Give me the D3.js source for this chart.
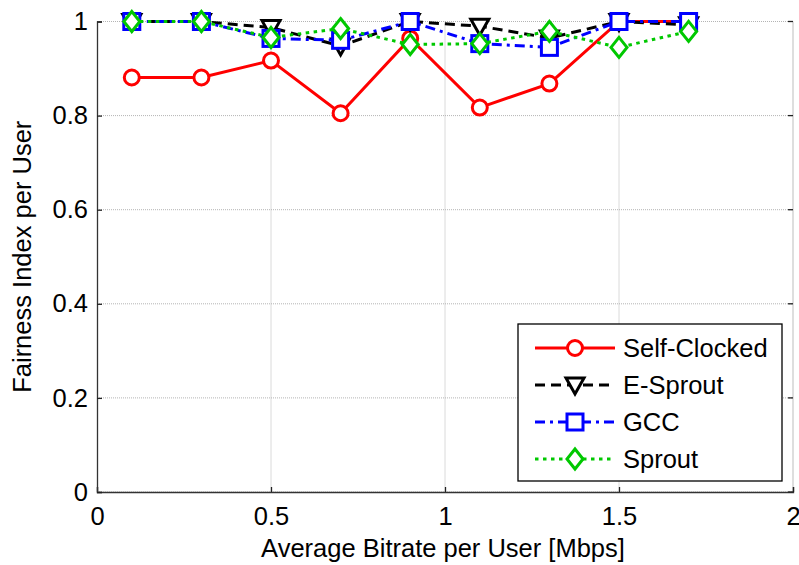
<!DOCTYPE html>
<html>
<head>
<meta charset="utf-8">
<script src="https://cdn.jsdelivr.net/npm/d3@7/dist/d3.min.js"></script>
<style>
  html, body { margin: 0; padding: 0; background: #fff; }
  svg { display: block; font-family: Arial, "Liberation Sans", sans-serif; }
</style>
</head>
<body>
<svg id="chart" width="799" height="565"></svg>
<script>
// Average bitrate per user (Mbps)
const bitrates = [0.1, 0.3, 0.5, 0.7, 0.9, 1.1, 1.3, 1.5, 1.7];

// Fairness index per user for each congestion-control scheme
const selfClocked = [0.881, 0.881, 0.917, 0.805, 0.964, 0.817, 0.868, 1.0, 1.0];
const eSprout     = [1.0, 1.0, 0.987, 0.948, 1.0, 0.99, 0.965, 1.0, 0.993];
const gcc         = [1.0, 1.0, 0.964, 0.96, 1.0, 0.953, 0.945, 1.0, 1.0];
const sprout      = [1.0, 1.0, 0.966, 0.985, 0.951, 0.953, 0.979, 0.945, 0.979];

const seriesNames = ["Self-Clocked", "E-Sprout", "GCC", "Sprout"];

const xTicks = [0, 0.5, 1, 1.5, 2];
const yTicks = [0, 0.2, 0.4, 0.6, 0.8, 1];

const styles = {
  "Self-Clocked": { color: "#ff0000", dash: null,        marker: "circle"   },
  "E-Sprout":     { color: "#000000", dash: "10,6",      marker: "triangle" },
  "GCC":          { color: "#0000ff", dash: "10,5,3,5",  marker: "square"   },
  "Sprout":       { color: "#00c800", dash: "3.5,4.5",   marker: "diamond"  }
};

const series = [
  { name: seriesNames[0], values: selfClocked },
  { name: seriesNames[1], values: eSprout },
  { name: seriesNames[2], values: gcc },
  { name: seriesNames[3], values: sprout }
];

const FONT = "25.5px";
const svg = d3.select("#chart");
const plotLeft = 97, plotRight = 793, plotTop = 21.5, plotBottom = 492;

const x = d3.scaleLinear().domain([0, 2]).range([plotLeft, plotRight]);
const y = d3.scaleLinear().domain([0, 1]).range([plotBottom, plotTop]);

// grid
const grid = svg.append("g");
grid.selectAll(".gx").data(xTicks.slice(1, -1)).join("line")
  .attr("x1", d => x(d)).attr("x2", d => x(d))
  .attr("y1", plotTop).attr("y2", plotBottom)
  .attr("stroke", "#b4b4b4").attr("stroke-width", 1).attr("stroke-dasharray", "1,1");
grid.selectAll(".gy").data(yTicks).join("line")
  .attr("x1", plotLeft).attr("x2", plotRight)
  .attr("y1", d => y(d)).attr("y2", d => y(d))
  .attr("stroke", "#b4b4b4").attr("stroke-width", 1).attr("stroke-dasharray", "1,1");

// right frame in light gray
svg.append("line").attr("x1", plotRight).attr("x2", plotRight).attr("y1", plotTop).attr("y2", plotBottom)
  .attr("stroke", "#bdbdbd").attr("stroke-width", 1);

// axes
const xAxis = d3.axisBottom(x).tickValues(xTicks).tickSize(-5).tickPadding(15)
  .tickFormat(d3.format("~g"));
const yAxis = d3.axisLeft(y).tickValues(yTicks).tickSize(-5).tickPadding(9)
  .tickFormat(d3.format("~g"));

const gx = svg.append("g").attr("transform", `translate(0,${plotBottom})`).call(xAxis);
const gy = svg.append("g").attr("transform", `translate(${plotLeft},0)`).call(yAxis);
[gx, gy].forEach(g => {
  g.select(".domain").attr("stroke", "#333").attr("stroke-width", 1.3);
  g.selectAll(".tick line").attr("stroke", "#222").attr("stroke-width", 1.3);
  g.selectAll(".tick text").attr("fill", "#000").style("font-size", FONT)
    .style("font-family", "Arial, 'Liberation Sans', sans-serif");
});
// right-side ticks
svg.append("g").selectAll("line").data(yTicks).join("line")
  .attr("x1", plotRight).attr("x2", plotRight - 5)
  .attr("y1", d => y(d)).attr("y2", d => y(d))
  .attr("stroke", "#222").attr("stroke-width", 1.3);

// axis titles
svg.append("text").attr("x", (plotLeft + plotRight) / 2 - 2).attr("y", 557)
  .attr("text-anchor", "middle").style("font-size", FONT).text("Average Bitrate per User [Mbps]");
svg.append("text").attr("transform", `translate(31,${(plotTop + plotBottom) / 2}) rotate(-90)`)
  .attr("text-anchor", "middle").style("font-size", FONT).text("Fairness Index per User");

// markers
function drawMarker(g, type, cx, cy, color) {
  if (type === "circle") {
    g.append("circle").attr("cx", cx).attr("cy", cy).attr("r", 7.5)
      .attr("fill", "#fff").attr("stroke", color).attr("stroke-width", 3);
  } else if (type === "triangle") {
    g.append("path").attr("d", `M${cx - 9},${cy - 7} L${cx + 9},${cy - 7} L${cx},${cy + 9} Z`)
      .attr("fill", "#fff").attr("stroke", color).attr("stroke-width", 3).attr("stroke-linejoin", "miter");
  } else if (type === "square") {
    g.append("rect").attr("x", cx - 8).attr("y", cy - 8).attr("width", 16).attr("height", 16)
      .attr("fill", "#fff").attr("stroke", color).attr("stroke-width", 3);
  } else if (type === "diamond") {
    g.append("path").attr("d", `M${cx},${cy - 10} L${cx + 8},${cy} L${cx},${cy + 10} L${cx - 8},${cy} Z`)
      .attr("fill", "#fff").attr("stroke", color).attr("stroke-width", 3).attr("stroke-linejoin", "miter");
  }
}

const line = d3.line().x((d, i) => x(bitrates[i])).y(d => y(d));

series.forEach(s => {
  const st = styles[s.name];
  const g = svg.append("g");
  g.append("path").datum(s.values).attr("d", line)
    .attr("fill", "none").attr("stroke", st.color).attr("stroke-width", 3)
    .attr("stroke-dasharray", st.dash);
  s.values.forEach((v, i) => drawMarker(g, st.marker, x(bitrates[i]), y(v), st.color));
});

// legend
const lg = svg.append("g");
lg.append("rect").attr("x", 518).attr("y", 324).attr("width", 264).attr("height", 157)
  .attr("fill", "#fff").attr("stroke", "#000").attr("stroke-width", 1.3);
const rowY = [348, 385, 422, 459];
series.forEach((s, i) => {
  const st = styles[s.name];
  const yy = rowY[i];
  lg.append("line").attr("x1", 535).attr("x2", 615).attr("y1", yy).attr("y2", yy)
    .attr("stroke", st.color).attr("stroke-width", 3).attr("stroke-dasharray", st.dash);
  drawMarker(lg, st.marker, 575, yy, st.color);
  lg.append("text").attr("x", 623).attr("y", yy + 9).style("font-size", FONT).text(s.name);
});
</script>
</body>
</html>
